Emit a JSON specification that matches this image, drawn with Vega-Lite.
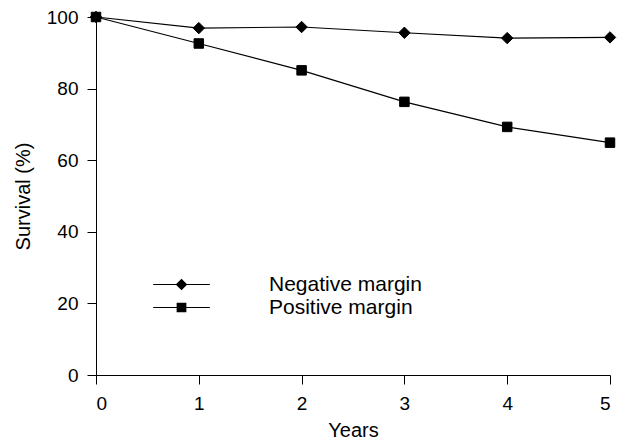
{
  "$schema": "https://vega.github.io/schema/vega-lite/v6.json",
  "width": 514,
  "height": 358,
  "autosize": {"type": "none"},
  "padding": {"left": 96, "top": 17, "right": 18, "bottom": 64},
  "background": "white",
  "config": {
    "view": {"stroke": null},
    "font": "Liberation Sans",
    "axis": {
      "grid": false,
      "domainColor": "black",
      "domainWidth": 1,
      "tickColor": "black",
      "tickSize": 9,
      "tickWidth": 1,
      "labelFontSize": 19,
      "labelColor": "black",
      "labelFont": "Liberation Sans",
      "titleFont": "Liberation Sans",
      "titleFontSize": 20,
      "titleFontWeight": "normal",
      "titleColor": "black"
    }
  },
  "data": {
    "values": [
      {"year": 0, "survival": 100, "group": "Negative margin"},
      {"year": 1, "survival": 96.9, "group": "Negative margin"},
      {"year": 2, "survival": 97.2, "group": "Negative margin"},
      {"year": 3, "survival": 95.6, "group": "Negative margin"},
      {"year": 4, "survival": 94.1, "group": "Negative margin"},
      {"year": 5, "survival": 94.3, "group": "Negative margin"},
      {"year": 0, "survival": 100, "group": "Positive margin"},
      {"year": 1, "survival": 92.6, "group": "Positive margin"},
      {"year": 2, "survival": 85.1, "group": "Positive margin"},
      {"year": 3, "survival": 76.3, "group": "Positive margin"},
      {"year": 4, "survival": 69.3, "group": "Positive margin"},
      {"year": 5, "survival": 64.9, "group": "Positive margin"}
    ]
  },
  "encoding": {
    "x": {"field": "year", "type": "quantitative", "scale": {"domain": [0, 5], "nice": false, "zero": false},
          "axis": {"values": [0, 1, 2, 3, 4, 5], "title": "Years", "labelPadding": 10, "titlePadding": 7}},
    "y": {"field": "survival", "type": "quantitative", "scale": {"domain": [0, 100], "nice": false},
          "axis": {"values": [0, 20, 40, 60, 80, 100], "title": "Survival (%)", "labelPadding": 9, "titlePadding": 13}}
  },
  "layer": [
    {
      "mark": {"type": "line", "color": "black", "strokeWidth": 1.2},
      "encoding": {"detail": {"field": "group"}}
    },
    {
      "mark": {"type": "point", "filled": true, "color": "black", "stroke": "black", "strokeWidth": 1, "opacity": 1},
      "encoding": {
        "shape": {"field": "group", "type": "nominal",
                  "scale": {"domain": ["Negative margin", "Positive margin"], "range": ["diamond", "square"]},
                  "legend": null},
        "size": {"field": "group", "type": "nominal",
                 "scale": {"domain": ["Negative margin", "Positive margin"], "range": [130, 90]},
                 "legend": null}
      }
    },
    {
      "transform": [{"filter": "datum.year > 100"}],
      "mark": {"type": "point", "filled": true, "color": "black", "opacity": 1},
      "encoding": {
        "shape": {"field": "group", "type": "nominal",
                  "scale": {"domain": ["Negative margin", "Positive margin"],
                            "range": ["M-3.03,-0.065L3.03,-0.065L3.03,0.065L-3.03,0.065ZM0,-0.62L0.62,0L0,0.62L-0.62,0Z", "M-3.03,-0.065L3.03,-0.065L3.03,0.065L-3.03,0.065ZM-0.52,-0.52L0.52,-0.52L0.52,0.52L-0.52,0.52Z"]},
                  "legend": {
                    "title": null,
                    "orient": "none",
                    "legendX": 75,
                    "legendY": 257,
                    "padding": 0,
                    "labelFontSize": 21,
                    "labelColor": "black",
                    "labelFont": "Liberation Sans",
                    "labelOffset": 77,
                    "rowPadding": 1,
                    "symbolSize": 350,
                    "symbolFillColor": "black",
                    "symbolOpacity": 1
                  }}
      }
    }
  ],
  "resolve": {"scale": {"shape": "independent", "size": "independent"}}
}
